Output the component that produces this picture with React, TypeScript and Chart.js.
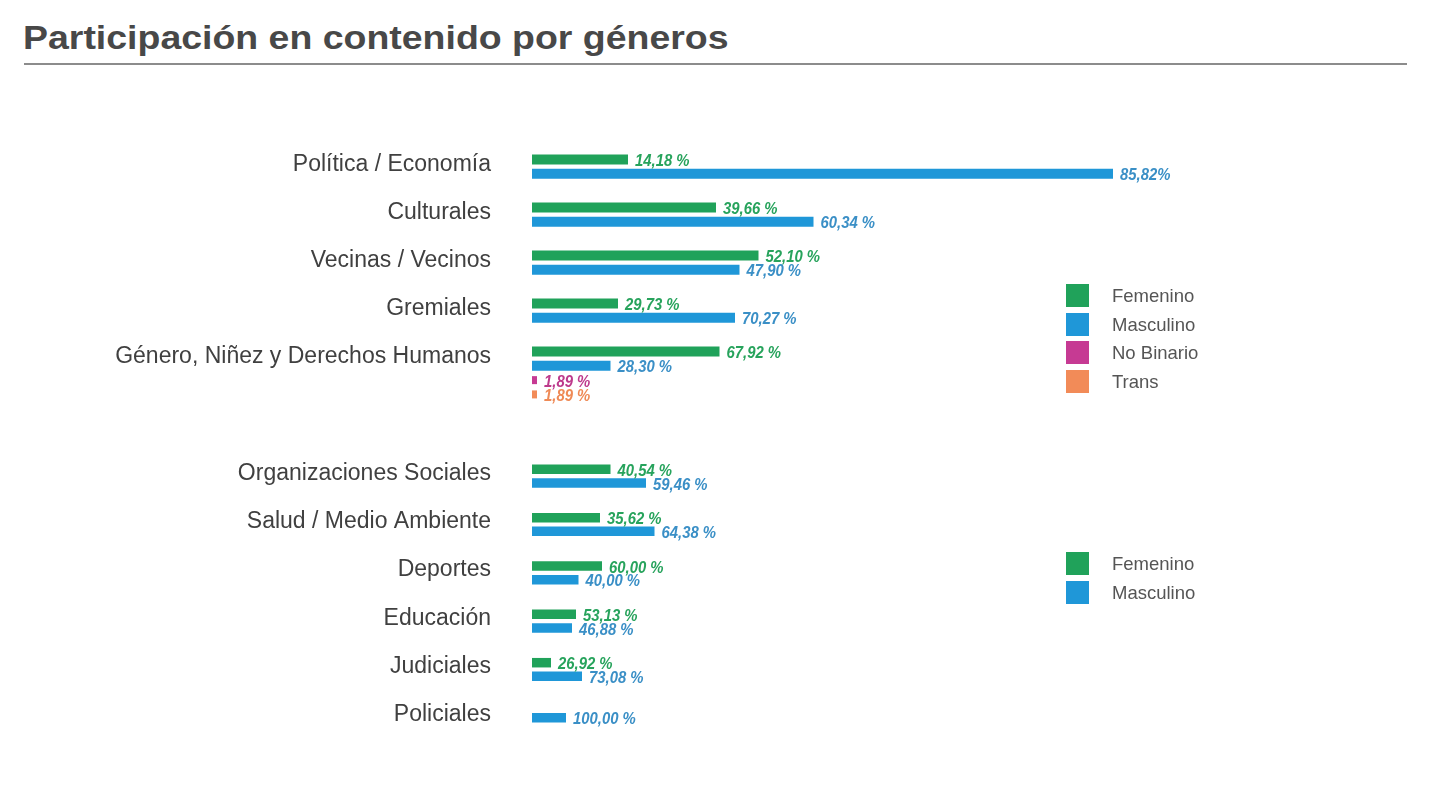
import React, { useEffect, useRef } from "react";
import { Chart, registerables } from "chart.js";

Chart.register(...registerables);

const titulo = "Participación en contenido por géneros";

// Grupo superior (cuatro géneros)
const categoriasA = [
  "Política / Economía",
  "Culturales",
  "Vecinas / Vecinos",
  "Gremiales",
  "Género, Niñez y Derechos Humanos",
];
// longitudes de barra tal como están dibujadas (unidades relativas del gráfico)
const femeninoA = [96, 184, 226.5, 86, 187.5];
const masculinoA = [581, 281.5, 207.5, 203, 78.5];
const noBinarioA = [null, null, null, null, 5];
const transA = [null, null, null, null, 5];
const etiquetasFemeninoA = ["14,18 %", "39,66 %", "52,10 %", "29,73 %", "67,92 %"];
const etiquetasMasculinoA = ["85,82%", "60,34 %", "47,90 %", "70,27 %", "28,30 %"];
const etiquetasNoBinarioA = [null, null, null, null, "1,89 %"];
const etiquetasTransA = [null, null, null, null, "1,89 %"];

// Grupo inferior (dos géneros)
const categoriasB = [
  "Organizaciones Sociales",
  "Salud / Medio Ambiente",
  "Deportes",
  "Educación",
  "Judiciales",
  "Policiales",
];
const femeninoB = [78.5, 68, 70, 44, 19, null];
const masculinoB = [114, 122.5, 46.5, 40, 50, 34];
const etiquetasFemeninoB = ["40,54 %", "35,62 %", "60,00 %", "53,13 %", "26,92 %", null];
const etiquetasMasculinoB = ["59,46 %", "64,38 %", "40,00 %", "46,88 %", "73,08 %", "100,00 %"];

const escalaMax = 908;

const leyendaA = ["Femenino", "Masculino", "No Binario", "Trans"];
const leyendaB = ["Femenino", "Masculino"];

const COLOR = {
  fem: "#20a25a",
  masc: "#1f97d8",
  nb: "#c63a93",
  trans: "#f28b58",
};
const TEXTO = {
  fem: "#27a35c",
  masc: "#3a8fc6",
  nb: "#bd3a8c",
  trans: "#ef8a56",
};

const FONT = "'Liberation Sans', Arial, Helvetica, sans-serif";

const valueLabels = {
  id: "valueLabels",
  afterDatasetsDraw(chart: any) {
    const ctx = chart.ctx;
    chart.data.datasets.forEach((ds: any, di: number) => {
      const meta = chart.getDatasetMeta(di);
      meta.data.forEach((bar: any, i: number) => {
        const t = ds.etiquetas[i];
        if (!t || ds.data[i] == null) return;
        const p = bar.getProps(["x", "y"], true);
        ctx.save();
        ctx.translate(p.x + 7, p.y + 2);
        ctx.scale(0.9, 1);
        ctx.font = `italic bold 16.5px ${FONT}`;
        ctx.fillStyle = ds.colorEtiqueta;
        ctx.textBaseline = "middle";
        ctx.textAlign = "left";
        ctx.fillText(t, 0, 0);
        ctx.restore();
      });
    });
  },
};

function makeOptions(labelOffset: number, catPct: number, skipNull: boolean) {
  return {
    indexAxis: "y" as const,
    responsive: false,
    animation: false as const,
    devicePixelRatio: 1,
    skipNull,
    layout: { padding: { top: 40, bottom: 40, left: 0, right: 0 } },
    plugins: { legend: { display: false }, tooltip: { enabled: false } },
    datasets: { bar: { categoryPercentage: catPct } },
    scales: {
      x: { display: false, min: 0, max: escalaMax },
      y: {
        grid: { display: false, drawTicks: false },
        border: { display: false },
        ticks: {
          color: "#404040",
          font: { family: FONT, size: 23 },
          padding: 41,
          labelOffset,
          autoSkip: false,
        },
        afterFit: (scale: any) => {
          scale.width = 532;
          scale.paddingTop = 0;
          scale.paddingBottom = 0;
        },
      },
    },
  };
}

function ChartA() {
  const ref = useRef<HTMLCanvasElement | null>(null);
  useEffect(() => {
    const chart = new Chart(ref.current as HTMLCanvasElement, {
      type: "bar",
      data: {
        labels: categoriasA,
        datasets: [
          { label: "Femenino", data: femeninoA, backgroundColor: COLOR.fem, barPercentage: 0.7, clip: false, etiquetas: etiquetasFemeninoA, colorEtiqueta: TEXTO.fem } as any,
          { label: "Masculino", data: masculinoA, backgroundColor: COLOR.masc, barPercentage: 0.7, clip: false, etiquetas: etiquetasMasculinoA, colorEtiqueta: TEXTO.masc } as any,
          { label: "No Binario", data: noBinarioA, backgroundColor: COLOR.nb, barPercentage: 0.56, clip: false, etiquetas: etiquetasNoBinarioA, colorEtiqueta: TEXTO.nb } as any,
          { label: "Trans", data: transA, backgroundColor: COLOR.trans, barPercentage: 0.56, clip: false, etiquetas: etiquetasTransA, colorEtiqueta: TEXTO.trans } as any,
        ],
      },
      options: makeOptions(-16, 1.19, false) as any,
      plugins: [valueLabels],
    });
    return () => chart.destroy();
  }, []);
  return (
    <canvas
      ref={ref}
      width={1440}
      height={320}
      style={{ position: "absolute", left: 0, top: 117, width: 1440, height: 320, display: "block" }}
    />
  );
}

function ChartB() {
  const ref = useRef<HTMLCanvasElement | null>(null);
  useEffect(() => {
    const chart = new Chart(ref.current as HTMLCanvasElement, {
      type: "bar",
      data: {
        labels: categoriasB,
        datasets: [
          { label: "Femenino", data: femeninoB, backgroundColor: COLOR.fem, barPercentage: 0.7, maxBarThickness: 9.5, clip: false, etiquetas: etiquetasFemeninoB, colorEtiqueta: TEXTO.fem } as any,
          { label: "Masculino", data: masculinoB, backgroundColor: COLOR.masc, barPercentage: 0.7, maxBarThickness: 9.5, clip: false, etiquetas: etiquetasMasculinoB, colorEtiqueta: TEXTO.masc } as any,
        ],
      },
      options: makeOptions(-3, 0.563, true) as any,
      plugins: [valueLabels],
    });
    return () => chart.destroy();
  }, []);
  return (
    <canvas
      ref={ref}
      width={1440}
      height={370}
      style={{ position: "absolute", left: 0, top: 412, width: 1440, height: 370, display: "block" }}
    />
  );
}

function Legend({ items, colors, top }: { items: string[]; colors: string[]; top: number }) {
  return (
    <div style={{ position: "absolute", left: 1066, top }}>
      {items.map((t, i) => (
        <div key={t} style={{ display: "flex", alignItems: "center", height: 23, marginBottom: 5.5 }}>
          <div style={{ width: 23, height: 23, background: colors[i], marginRight: 23 }} />
          <span style={{ fontFamily: FONT, fontSize: 18.5, color: "#555", lineHeight: "23px" }}>{t}</span>
        </div>
      ))}
    </div>
  );
}

export default function App() {
  return (
    <div
      style={{
        position: "absolute",
        left: 0,
        top: 0,
        width: 1440,
        height: 800,
        background: "#fff",
        overflow: "hidden",
      }}
    >
      <div
        style={{
          position: "absolute",
          left: 23,
          top: 21,
          fontFamily: FONT,
          fontWeight: "bold",
          fontSize: 33,
          lineHeight: "33px",
          color: "#484848",
          whiteSpace: "nowrap",
          transform: "scaleX(1.135)",
          transformOrigin: "left top",
        }}
      >
        {titulo}
      </div>
      <div style={{ position: "absolute", left: 24, top: 63, width: 1383, height: 2, background: "#8c8c8c" }} />
      <ChartA />
      <ChartB />
      <Legend items={leyendaA} colors={[COLOR.fem, COLOR.masc, COLOR.nb, COLOR.trans]} top={284} />
      <Legend items={leyendaB} colors={[COLOR.fem, COLOR.masc]} top={552} />
    </div>
  );
}
